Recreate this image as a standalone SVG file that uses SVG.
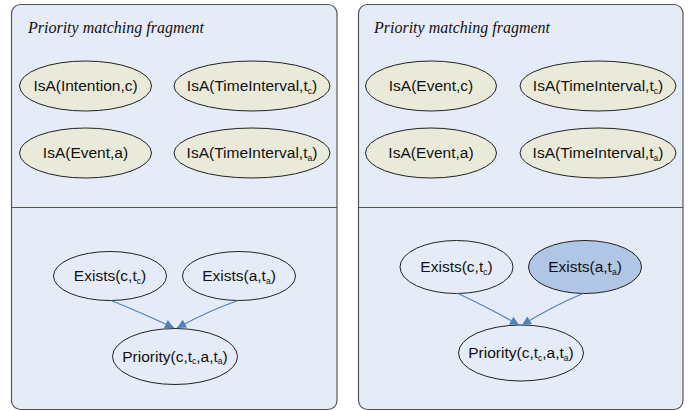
<svg xmlns="http://www.w3.org/2000/svg" width="688" height="411" viewBox="0 0 688 411">
<defs>
<style>
.panel{fill:#E6ECF7;stroke:#555;stroke-width:1.2}
.div{stroke:#555;stroke-width:1.2}
.title{font-family:"Liberation Serif","Times New Roman",serif;font-style:italic;font-size:16px;fill:#111}
.isa{fill:#EAEADB;stroke:#222;stroke-width:1}
.ex{fill:#E6ECF7;stroke:#222;stroke-width:1}
.obs{fill:#B1C6E4;stroke:#222;stroke-width:1}
.lbl{font-family:"Liberation Sans",Arial,sans-serif;font-size:15.5px;fill:#111;text-anchor:middle}
.sub{font-size:8.5px}
.edge{fill:none;stroke:#4F81BD;stroke-width:1.2}
</style>
<marker id="arr" viewBox="0 0 10 10" refX="10" refY="5" markerWidth="10" markerHeight="9" markerUnits="userSpaceOnUse" orient="auto">
<path d="M0,0 L10,5 L0,10 z" fill="#4F81BD"/>
</marker>
</defs>

<g id="panel-left">
<rect class="panel" x="11.5" y="4.5" width="325.5" height="405" rx="9"/>
<line class="div" x1="11.5" y1="207.5" x2="337" y2="207.5"/>
<text class="title" x="28" y="33">Priority matching fragment</text>
</g>
<g id="panel-right">
<rect class="panel" x="358.5" y="4.5" width="324.5" height="405" rx="9"/>
<line class="div" x1="358.5" y1="207.5" x2="683" y2="207.5"/>
<text class="title" x="374" y="33">Priority matching fragment</text>
</g>

<g id="L-isa-intention-c">
<ellipse class="isa" cx="85.5" cy="86" rx="66" ry="25"/>
<text class="lbl" x="85.5" y="91">IsA(Intention,c)</text>
</g>
<g id="L-isa-timeinterval-tc">
<ellipse class="isa" cx="252" cy="86" rx="78" ry="25"/>
<text class="lbl" x="252" y="91">IsA(TimeInterval,t<tspan class="sub" dy="2.5">c</tspan><tspan dy="-2.5">)</tspan></text>
</g>
<g id="L-isa-event-a">
<ellipse class="isa" cx="85.5" cy="153" rx="66" ry="25"/>
<text class="lbl" x="85.5" y="158">IsA(Event,a)</text>
</g>
<g id="L-isa-timeinterval-ta">
<ellipse class="isa" cx="252" cy="153" rx="78" ry="25"/>
<text class="lbl" x="252" y="158">IsA(TimeInterval,t<tspan class="sub" dy="2.5">a</tspan><tspan dy="-2.5">)</tspan></text>
</g>
<g id="L-exists-c">
<ellipse class="ex" cx="110" cy="276" rx="56.5" ry="24.5"/>
<text class="lbl" x="110" y="281">Exists(c,t<tspan class="sub" dy="2.5">c</tspan><tspan dy="-2.5">)</tspan></text>
</g>
<g id="L-exists-a">
<ellipse class="ex" cx="239" cy="276" rx="56.5" ry="24.5"/>
<text class="lbl" x="239" y="281">Exists(a,t<tspan class="sub" dy="2.5">a</tspan><tspan dy="-2.5">)</tspan></text>
</g>
<g id="L-priority">
<ellipse class="ex" cx="175" cy="356.5" rx="62.5" ry="28"/>
<text class="lbl" x="175" y="361.5">Priority(c,t<tspan class="sub" dy="2.5">c</tspan><tspan dy="-2.5">,a,t</tspan><tspan class="sub" dy="2.5">a</tspan><tspan dy="-2.5">)</tspan></text>
</g>

<g id="R-isa-event-c">
<ellipse class="isa" cx="431" cy="86" rx="65.5" ry="25"/>
<text class="lbl" x="431" y="91">IsA(Event,c)</text>
</g>
<g id="R-isa-timeinterval-tc">
<ellipse class="isa" cx="598" cy="86" rx="78" ry="25"/>
<text class="lbl" x="598" y="91">IsA(TimeInterval,t<tspan class="sub" dy="2.5">c</tspan><tspan dy="-2.5">)</tspan></text>
</g>
<g id="R-isa-event-a">
<ellipse class="isa" cx="431" cy="153" rx="65.5" ry="25"/>
<text class="lbl" x="431" y="158">IsA(Event,a)</text>
</g>
<g id="R-isa-timeinterval-ta">
<ellipse class="isa" cx="598" cy="153" rx="78" ry="25"/>
<text class="lbl" x="598" y="158">IsA(TimeInterval,t<tspan class="sub" dy="2.5">a</tspan><tspan dy="-2.5">)</tspan></text>
</g>
<g id="R-exists-c">
<ellipse class="ex" cx="456.5" cy="267" rx="56.5" ry="26.5"/>
<text class="lbl" x="456.5" y="272">Exists(c,t<tspan class="sub" dy="2.5">c</tspan><tspan dy="-2.5">)</tspan></text>
</g>
<g id="R-exists-a">
<ellipse class="obs" cx="585" cy="267" rx="56.5" ry="26.5"/>
<text class="lbl" x="585" y="272">Exists(a,t<tspan class="sub" dy="2.5">a</tspan><tspan dy="-2.5">)</tspan></text>
</g>
<g id="R-priority">
<ellipse class="ex" cx="521" cy="353" rx="62.5" ry="28"/>
<text class="lbl" x="521" y="358">Priority(c,t<tspan class="sub" dy="2.5">c</tspan><tspan dy="-2.5">,a,t</tspan><tspan class="sub" dy="2.5">a</tspan><tspan dy="-2.5">)</tspan></text>
</g>

<g id="connectors">
<path class="edge" marker-end="url(#arr)" d="M111,300.5 Q140,312 174,328"/>
<path class="edge" marker-end="url(#arr)" d="M238,300.5 Q208,311 177,328"/>
<path class="edge" marker-end="url(#arr)" d="M458,293.5 Q487,307 519,325"/>
<path class="edge" marker-end="url(#arr)" d="M583,293.5 Q553,306 522,325"/>
</g>
</svg>
